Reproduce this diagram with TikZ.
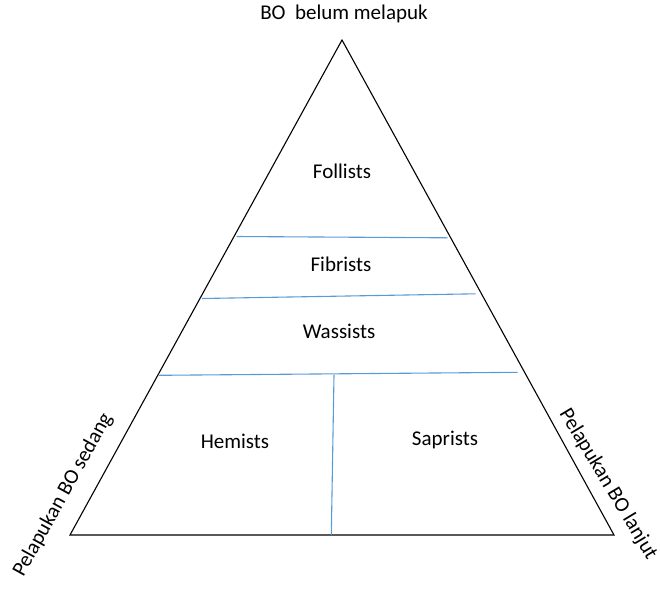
\documentclass[tikz,border=0pt]{standalone}
\usepackage{fontspec}
\setmainfont{Carlito}
\definecolor{sepblue}{RGB}{91,155,213}
\begin{document}
\begin{tikzpicture}[x=1pt,y=-1pt,
  lbl/.style={font=\fontsize{21}{25}\selectfont, inner sep=0pt},
  edge/.style={draw=black, line width=1.1pt},
  sep/.style={draw=sepblue, line width=1.1pt}]
\useasboundingbox (0,0) rectangle (660,590);
\coordinate (A) at (342,40);
\coordinate (L) at (70,535);
\coordinate (R) at (614,535);
\draw[edge] (A) -- (L) -- (R) -- cycle;
\coordinate (s1a) at (236.5,236.5);
\coordinate (s1b) at (447.5,237.8);
\coordinate (s2a) at (202,298.5);
\coordinate (s2b) at (475.5,293.8);
\coordinate (s3a) at (158.8,375.3);
\coordinate (s3b) at (517.5,372.3);
\coordinate (v1) at (334,374.8);
\coordinate (v2) at (331.3,535);
\draw[sep] (s1a) -- (s1b);
\draw[sep] (s2a) -- (s2b);
\draw[sep] (s3a) -- (s3b);
\draw[sep] (v1) -- (v2);
\node[lbl] (top) at (344,14) {BO\ \ belum melapuk};
\node[lbl] (fol) at (342,171) {Follists};
\node[lbl] (fib) at (341,264) {Fibrists};
\node[lbl] (was) at (339,331) {Wassists};
\node[lbl] (hem) at (235,441) {Hemists};
\node[lbl] (sap) at (445,440) {Saprists};
\node[lbl, rotate=61] (left) at (63,495) {Pelapukan BO sedang};
\node[lbl, rotate=-59] (right) at (608,484) {Pelapukan BO lanjut};
\end{tikzpicture}
\end{document}
